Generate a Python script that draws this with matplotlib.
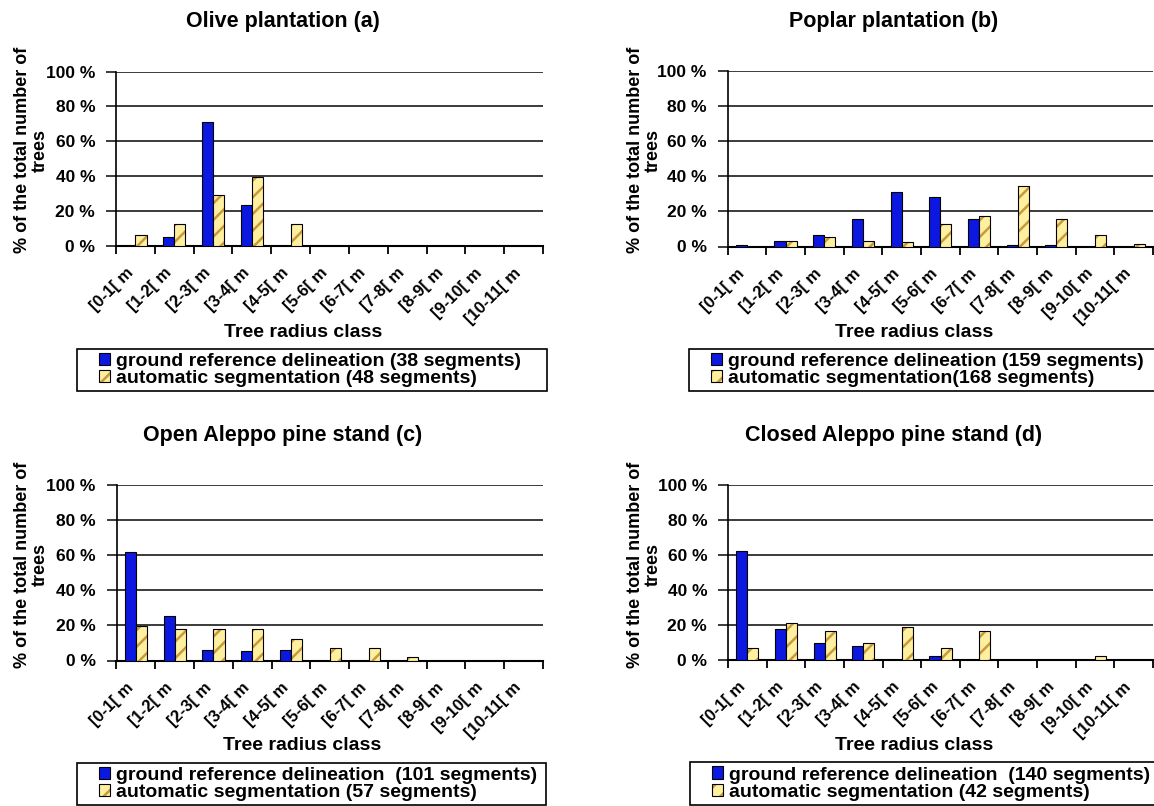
import matplotlib
matplotlib.use("Agg")
import matplotlib.pyplot as plt
from matplotlib.patches import Rectangle
from matplotlib.transforms import ScaledTranslation
from matplotlib.legend_handler import HandlerTuple
import numpy as np

# radius classes shared by the four stands
classes = ["[0-1[ m", "[1-2[ m", "[2-3[ m", "[3-4[ m", "[4-5[ m", "[5-6[ m",
           "[6-7[ m", "[7-8[ m", "[8-9[ m", "[9-10[ m", "[10-11[ m"]

# % of trees per class : ground reference / automatic segmentation
olive_ref = [0, 5.3, 71.1, 23.7, 0, 0, 0, 0, 0, 0, 0]
olive_auto = [6.3, 12.5, 29.2, 39.6, 12.5, 0, 0, 0, 0, 0, 0]
poplar_ref = [0.6, 3.1, 6.3, 15.7, 30.8, 28.3, 15.7, 0.6, 0.6, 0, 0]
poplar_auto = [0, 3.0, 5.4, 3.0, 2.4, 13.1, 17.3, 34.5, 15.5, 6.5, 1.2]
open_ref = [62.0, 25.2, 5.7, 5.2, 5.7, 0, 0, 0, 0, 0, 0]
open_auto = [19.5, 17.8, 17.8, 17.8, 12.5, 7.0, 7.0, 1.8, 0, 0, 0]
closed_ref = [62.1, 17.9, 10.0, 7.9, 0, 2.1, 0, 0, 0, 0, 0]
closed_auto = [7.1, 21.4, 16.7, 9.5, 19.0, 7.1, 16.7, 0, 0, 2.4, 0]

titles = ["Olive plantation (a)", "Poplar plantation (b)",
          "Open Aleppo pine stand (c)", "Closed Aleppo pine stand (d)"]
ref_labels = ["ground reference delineation (38 segments)",
              "ground reference delineation (159 segments)",
              "ground reference delineation  (101 segments)",
              "ground reference delineation  (140 segments)"]
auto_labels = ["automatic segmentation (48 segments)",
               "automatic segmentation(168 segments)",
               "automatic segmentation (57 segments)",
               "automatic segmentation (42 segments)"]

W, H = 1154, 806
BLUE = "#0c18e0"
YELLOW = "#fff0a0"
STRIPE = "#c89a3c"
NARROW = ["Liberation Sans Narrow", "Liberation Sans"]
BOLD = ["Liberation Sans", "DejaVu Sans"]

plt.rcParams["hatch.linewidth"] = 1.8

fig = plt.figure(figsize=(W / 100, H / 100), dpi=100)
fig.patch.set_facecolor("white")


def rect(left, right, top, bottom):
    return [left / W, 1 - bottom / H, (right - left) / W, (bottom - top) / H]


def ftext(x, y, s, **kw):
    fig.text(x / W, 1 - y / H, s, **kw)


# pixel boxes: axes, title, x label, y label, legend
layout = [
    dict(ax=(116, 543, 71.5, 246), title=(283, 21), xl=(303, 333), yl=(31, 150),
         leg=(77, 547, 349, 391)),
    dict(ax=(727.5, 1153, 71, 246.5), title=(894, 21), xl=(914, 333), yl=(644, 150),
         leg=(689, 1170, 349, 391)),
    dict(ax=(116.5, 543, 485, 660.5), title=(283, 435), xl=(302, 746), yl=(31, 565),
         leg=(77, 546, 763, 804.5)),
    dict(ax=(728, 1153, 485, 660), title=(894, 435), xl=(914, 746), yl=(644, 565),
         leg=(690, 1170, 762, 805)),
]
series = [(olive_ref, olive_auto), (poplar_ref, poplar_auto),
          (open_ref, open_auto), (closed_ref, closed_auto)]

x = np.arange(len(classes))
w = 1 / 3.5

for i, (lay, (ref, auto)) in enumerate(zip(layout, series)):
    ax = fig.add_axes(rect(*lay["ax"]))
    ax.set_xlim(-0.5, len(classes) - 0.5)
    ax.set_ylim(0, 100)

    b1 = ax.bar(x - w / 2, ref, w, color=BLUE, edgecolor="black", linewidth=0.8, zorder=3)
    b2 = ax.bar(x + w / 2, auto, w, color=YELLOW, edgecolor=STRIPE, hatch="//",
                linewidth=0, zorder=3)
    b3 = ax.bar(x + w / 2, auto, w, fill=False, edgecolor="black", linewidth=0.8, zorder=4)

    # grid + spines
    ax.set_yticks(np.arange(0, 101, 20))
    ax.set_yticklabels([f"{v} %" for v in range(0, 101, 20)], fontfamily=NARROW,
                       fontweight="bold", fontsize=12.5)
    ax.yaxis.grid(True, color="#1a1a1a", linewidth=1.2, zorder=1)
    ax.tick_params(axis="y", length=7, width=1.2, pad=8, color="#1a1a1a")
    for s in ["top", "right"]:
        ax.spines[s].set_visible(False)
    ax.spines["left"].set_linewidth(1.2)
    ax.spines["bottom"].set_linewidth(1.5)
    ax.set_axisbelow(True)

    # tick marks between classes, labels under class centres
    ax.set_xticks(np.arange(-0.5, len(classes), 1))
    ax.set_xticklabels([])
    ax.tick_params(axis="x", which="major", length=6, width=1.3, direction="out")
    ax.set_xticks(x, minor=True)
    ax.set_xticklabels(classes, minor=True, rotation=45, ha="right", va="top",
                       rotation_mode="anchor", fontfamily=BOLD, fontweight="bold",
                       fontsize=12)
    ax.tick_params(axis="x", which="minor", length=0, pad=14)
    shift = ScaledTranslation(-0.1, 0, fig.dpi_scale_trans)
    for lab in ax.get_xticklabels(minor=True):
        lab.set_transform(lab.get_transform() + shift)

    ftext(*lay["title"], titles[i], ha="center", va="center", fontsize=15.5,
          fontweight="bold", family=BOLD)
    ftext(*lay["xl"], "Tree radius class", ha="center", va="center", fontsize=14,
          fontweight="bold", family=BOLD)
    ftext(*lay["yl"], "% of the total number of\ntrees", ha="center", va="center",
          rotation=90, multialignment="center", fontsize=13, fontweight="bold",
          family=BOLD, linespacing=1.05)

    # legend frame, then the entries inside it
    l, r, t, b = lay["leg"]
    fig.patches.append(Rectangle((l / W, 1 - b / H), (r - l) / W, (b - t) / H,
                                 transform=fig.transFigure, facecolor="white",
                                 edgecolor="black", linewidth=1.2, zorder=5))
    leg = fig.legend([b1, (b2, b3)], [ref_labels[i], auto_labels[i]],
                     handler_map={tuple: HandlerTuple(ndivide=1, pad=0)},
                     bbox_to_anchor=((l + 22) / W, 1 - (t + b) / 2 / H),
                     loc="center left",
                     borderaxespad=0, borderpad=0, labelspacing=0.0,
                     handlelength=0.55, handleheight=0.6, handletextpad=0.3,
                     frameon=False, prop=dict(family=BOLD, weight="bold", size=14))
    leg.set_zorder(6)

fig.savefig("out.png", dpi=100, facecolor="white")
